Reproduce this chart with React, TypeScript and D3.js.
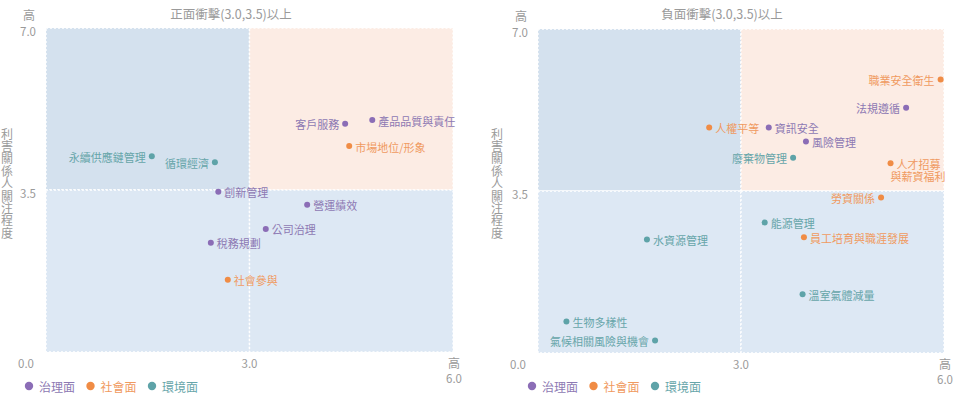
import React from "react";
import * as d3 from "d3";

type Pt = { name: string; cat: string; x: number; y: number; side: "start" | "end"; line2?: string };

const categories = ["治理面", "社會面", "環境面"];
const catColors = ["#8b6db6", "#f08c45", "#5ea3a8"];
const catTextColors = ["#8d79b3", "#f09a60", "#66a5a9"];

const positivePoints: Pt[] = [
  { name: "客戶服務", cat: "治理面", x: 4.41, y: 4.93, side: "end" },
  { name: "產品品質與責任", cat: "治理面", x: 4.81, y: 5.01, side: "start" },
  { name: "市場地位/形象", cat: "社會面", x: 4.47, y: 4.45, side: "start" },
  { name: "永續供應鏈管理", cat: "環境面", x: 1.56, y: 4.23, side: "end" },
  { name: "循環經濟", cat: "環境面", x: 2.49, y: 4.1, side: "end" },
  { name: "創新管理", cat: "治理面", x: 2.54, y: 3.46, side: "start" },
  { name: "營運績效", cat: "治理面", x: 3.85, y: 3.18, side: "start" },
  { name: "公司治理", cat: "治理面", x: 3.24, y: 2.66, side: "start" },
  { name: "稅務規劃", cat: "治理面", x: 2.43, y: 2.36, side: "start" },
  { name: "社會參與", cat: "社會面", x: 2.68, y: 1.56, side: "start" },
];

const negativePoints: Pt[] = [
  { name: "職業安全衛生", cat: "社會面", x: 5.95, y: 5.91, side: "end" },
  { name: "法規遵循", cat: "治理面", x: 5.44, y: 5.3, side: "end" },
  { name: "人權平等", cat: "社會面", x: 2.53, y: 4.87, side: "start" },
  { name: "資訊安全", cat: "治理面", x: 3.41, y: 4.87, side: "start" },
  { name: "風險管理", cat: "治理面", x: 3.96, y: 4.57, side: "start" },
  { name: "廢棄物管理", cat: "環境面", x: 3.77, y: 4.22, side: "end" },
  { name: "人才招募", line2: "與薪資福利", cat: "社會面", x: 5.21, y: 4.1, side: "start" },
  { name: "勞資關係", cat: "社會面", x: 5.07, y: 3.36, side: "end" },
  { name: "能源管理", cat: "環境面", x: 3.35, y: 2.82, side: "start" },
  { name: "員工培育與職涯發展", cat: "社會面", x: 3.93, y: 2.5, side: "start" },
  { name: "水資源管理", cat: "環境面", x: 1.61, y: 2.45, side: "start" },
  { name: "溫室氣體減量", cat: "環境面", x: 3.91, y: 1.27, side: "start" },
  { name: "生物多樣性", cat: "環境面", x: 0.42, y: 0.68, side: "start" },
  { name: "氣候相關風險與機會", cat: "環境面", x: 1.73, y: 0.27, side: "end" },
];

const xDomain = [0, 6];
const yDomain = [0, 7];
const xMid = 3.0;
const yMid = 3.5;
const yTitle = "利害關係人關注程度";
const highLabel = "高";

const FONT = "'Noto Sans CJK TC', 'Noto Sans', sans-serif";
const GRAY = "#9a9a9a";
const LABEL_FS = 11;

type PanelProps = {
  title: string;
  points: Pt[];
  x0: number;
  x1: number;
  yTop: number;
  yBot: number;
  titleX: number;
  yTitleX: number;
  yTitleTop: number;
  legendX: number;
};

function Panel(p: PanelProps) {
  const x = d3.scaleLinear().domain(xDomain).range([p.x0, p.x1]);
  const y = d3.scaleLinear().domain(yDomain).range([p.yBot, p.yTop]);
  const color = d3.scaleOrdinal<string, string>().domain(categories).range(catColors);
  const tcolor = d3.scaleOrdinal<string, string>().domain(categories).range(catTextColors);

  const quads = [
    { xa: xDomain[0], xb: xMid, ya: yMid, yb: yDomain[1], fill: "#d4e1ee" },
    { xa: xMid, xb: xDomain[1], ya: yMid, yb: yDomain[1], fill: "#fcece4" },
    { xa: xDomain[0], xb: xMid, ya: yDomain[0], yb: yMid, fill: "#dde8f4" },
    { xa: xMid, xb: xDomain[1], ya: yDomain[0], yb: yMid, fill: "#dde8f4" },
  ];

  return (
    <g>
      <text x={p.titleX} y={13} textAnchor="middle" dominantBaseline="central" fontSize={12.5} fill={GRAY}>
        {p.title}
      </text>
      {quads.map((q, i) => (
        <rect
          key={i}
          x={x(q.xa)}
          y={y(q.yb)}
          width={x(q.xb) - x(q.xa)}
          height={y(q.ya) - y(q.yb)}
          fill={q.fill}
          stroke="#ffffff"
          strokeWidth={1.4}
          strokeDasharray="2,2"
        />
      ))}
      {/* y ticks */}
      <text x={x(0) - 17} y={y(7) - 14} textAnchor="middle" dominantBaseline="central" fontSize={12} fill={GRAY}>
        {highLabel}
      </text>
      {[7, 3.5].map((v) => (
        <text key={v} x={x(0) - 10} y={y(v) + 3} textAnchor="end" dominantBaseline="central" fontSize={11.5} fill={GRAY}>
          {d3.format(".1f")(v)}
        </text>
      ))}
      {/* x ticks */}
      {[0, 3].map((v) => (
        <text
          key={v}
          x={v === 0 ? x(0) - 20 : x(v)}
          y={y(0) + 11}
          textAnchor="middle"
          dominantBaseline="central"
          fontSize={11.5}
          fill={GRAY}
        >
          {d3.format(".1f")(v)}
        </text>
      ))}
      <text x={x(6) + 1} y={y(0) + 10} textAnchor="middle" dominantBaseline="central" fontSize={12} fill={GRAY}>
        {highLabel}
      </text>
      <text x={x(6) + 1} y={y(0) + 26} textAnchor="middle" dominantBaseline="central" fontSize={11.5} fill={GRAY}>
        {d3.format(".1f")(6)}
      </text>
      {/* y title vertical */}
      <text
        x={p.yTitleX}
        y={p.yTitleTop}
        fontSize={12}
        fill={GRAY}
        letterSpacing={0.4}
        style={{ writingMode: "vertical-rl", textOrientation: "upright" } as any}
      >
        {yTitle}
      </text>
      {/* points */}
      {p.points.map((d) => {
        const cx = x(d.x);
        const cy = y(d.y);
        const dx = d.side === "start" ? 6 : -6;
        return (
          <g key={d.name}>
            <circle cx={cx} cy={cy} r={3} fill={color(d.cat)} />
            <text fontSize={LABEL_FS} fill={tcolor(d.cat)} dominantBaseline="central">
              <tspan x={cx + dx} y={cy + 0.5} textAnchor={d.side}>
                {d.name}
              </tspan>
              {d.line2 && (
                <tspan x={cx + dx + 4 * LABEL_FS + 5} y={cy + 13} textAnchor="end">
                  {d.line2}
                </tspan>
              )}
            </text>
          </g>
        );
      })}
      {/* legend */}
      {categories.map((c, i) => (
        <g key={c} transform={`translate(${p.legendX + i * 61.5},386)`}>
          <circle cx={0} cy={0} r={4.2} fill={color(c)} />
          <text x={10} y={0.5} dominantBaseline="central" fontSize={12} fill={tcolor(c)}>
            {c}
          </text>
        </g>
      ))}
    </g>
  );
}

export default function App() {
  return (
    <svg
      width={960}
      height={397}
      style={{ position: "absolute", left: 0, top: 0, fontFamily: FONT }}
      viewBox="0 0 960 397"
    >
      <rect x={0} y={0} width={960} height={397} fill="#ffffff" />
      <Panel
        title="正面衝擊(3.0,3.5)以上"
        points={positivePoints}
        x0={46}
        x1={453}
        yTop={28}
        yBot={352}
        titleX={231}
        yTitleX={7}
        yTitleTop={128}
        legendX={29}
      />
      <Panel
        title="負面衝擊(3.0,3.5)以上"
        points={negativePoints}
        x0={538}
        x1={944}
        yTop={29}
        yBot={353}
        titleX={722}
        yTitleX={497}
        yTitleTop={128}
        legendX={532}
      />
    </svg>
  );
}
